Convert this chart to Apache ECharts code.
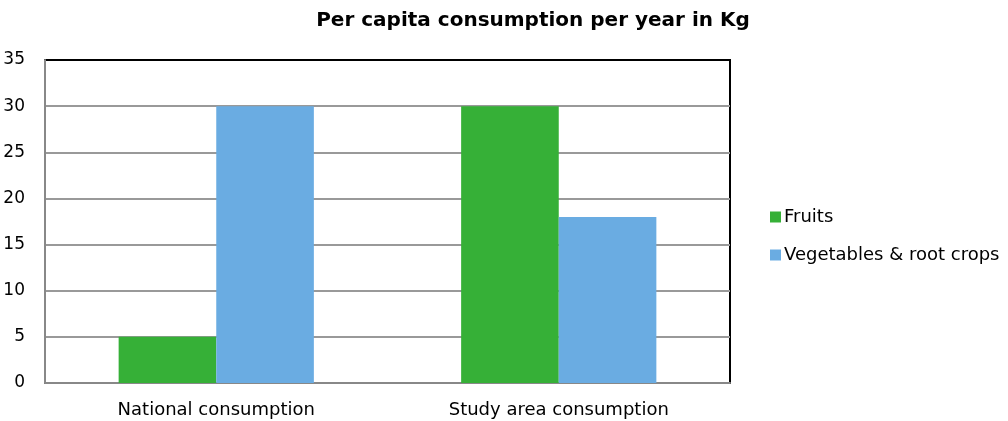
<!DOCTYPE html>
<html><head><meta charset="utf-8">
<script src="https://cdn.jsdelivr.net/npm/echarts@6/dist/echarts.min.js"></script>
<style>html,body{margin:0;padding:0;background:#fff}#c{width:1008px;height:421px}</style>
</head><body><div id="c"></div>
<script>
const categories = ["National consumption", "Study area consumption"];
const fruits = [5, 30];
const vegetables = [30, 18];
const seriesNames = ["Fruits", "Vegetables & root crops"];
const FONT = "DejaVu Sans";
const chart = echarts.init(document.getElementById('c'));
chart.setOption({
  animation: false,
  backgroundColor: '#fff',
  title: {
    text: 'Per capita consumption per year in Kg',
    left: 528, top: 6, textAlign: 'center',
    textStyle: {fontFamily: FONT, fontSize: 20, fontWeight: 'bold', color: '#000'}
  },
  legend: {
    orient: 'vertical', left: 765, top: 203,
    itemWidth: 11, itemHeight: 11, itemGap: 20, icon: 'rect',
    textStyle: {fontFamily: FONT, fontSize: 18, color: '#000', padding: [0,0,0,-2]},
    data: seriesNames
  },
  grid: {left: 45, right: 278, top: 60, bottom: 38, show: true, borderColor: '#000', borderWidth: 2, backgroundColor: 'transparent'},
  xAxis: {
    type: 'category', data: categories,
    axisLine: {lineStyle: {color: '#888', width: 2}},
    axisTick: {show: false},
    axisLabel: {fontFamily: FONT, fontSize: 18, color: '#000', margin: 18}
  },
  yAxis: {
    type: 'value', min: 0, max: 35, interval: 5,
    axisLine: {show: true, lineStyle: {color: '#888', width: 2}},
    axisTick: {show: false},
    splitLine: {showMaxLine: false, showMinLine: false, lineStyle: {color: '#999', width: 2}},
    axisLabel: {fontFamily: FONT, fontSize: 17, color: '#000', margin: 20}
  },
  series: [
    {name: seriesNames[0], type: 'bar', data: fruits, barGap: '0%', barCategoryGap: '43%', itemStyle: {color: '#36b037'}},
    {name: seriesNames[1], type: 'bar', data: vegetables, itemStyle: {color: '#6aace2'}}
  ]
});
</script></body></html>
